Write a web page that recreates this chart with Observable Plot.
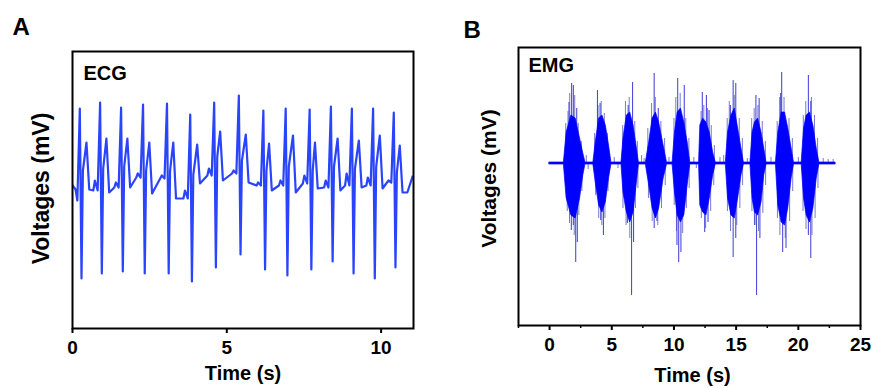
<!DOCTYPE html>
<html>
<head>
<meta charset="utf-8">
<script src="https://cdn.jsdelivr.net/npm/d3@7"></script>
<script src="https://cdn.jsdelivr.net/npm/@observablehq/plot@0.6"></script>
<style>
  html, body { margin: 0; padding: 0; background: #fff; }
  #fig { position: relative; width: 872px; height: 388px; overflow: hidden; }
</style>
</head>
<body>
<div id="fig"></div>
<script>
// ---------------- Panel A : ECG ----------------
const ecgTicks = [0, 5, 10];
const ecgStartT = [0, 0.10];
const ecgStartV = [0.01, -0.03];
const rTime   = [0.237, 0.895, 1.575, 2.286, 3.062, 3.815, 4.591, 5.390, 6.185, 6.909, 7.685, 8.374, 9.053, 9.741, 10.411];
const rPeak   = [0.78, 0.84, 0.79, 0.82, 0.83, 0.72, 0.84, 0.91, 0.76, 0.78, 0.77, 0.80, 0.78, 0.78, 0.74];
const sTrough = [-0.92, -0.87, -0.85, -0.87, -0.87, -0.95, -0.81, -0.68, -0.83, -0.89, -0.83, -0.75, -0.87, -0.92, -0.81];
const stLevel = [0.16, 0.18, 0.2, 0.16, 0.16, 0.12, 0.3, 0.26, 0.16, 0.2, 0.16, 0.2, 0.18, 0.2, 0.14];
const tTime   = [0.453, 1.099, 1.778, 2.489, 3.265, 4.041, 4.785, 5.616, 6.369, 7.145, 7.857, 8.591, 9.279, 9.958, 10.605];
const tPeak   = [0.44, 0.48, 0.48, 0.44, 0.44, 0.42, 0.55, 0.52, 0.43, 0.51, 0.44, 0.48, 0.46, 0.51, 0.41];
const pPeak   = [0.01, 0.06, 0.04, 0.13, 0.11, -0.04, 0.18, 0.16, 0.04, 0.06, 0.11, 0.06, 0.13, 0.09, 0.06];
const baseBefore = [-0.14, -0.04, -0.01, 0.09, 0.08, -0.12, 0.11, 0.13, 0.01, 0.01, 0.03, -0.01, 0.01, 0.01, 0.04];
const baseAfter  = [-0.03, -0.06, -0.01, -0.07, -0.12, 0.03, 0.06, 0.04, -0.04, -0.06, -0.02, -0.04, -0.01, -0.02, -0.06];
const ecgEndT = [10.85, 11.02];
const ecgEndV = [-0.06, 0.10];

const ecg = [];
ecgStartT.forEach((t, i) => ecg.push({t, v: ecgStartV[i]}));
rTime.forEach((r, i) => {
  if (i > 0) {
    ecg.push({t: r - 0.22, v: baseBefore[i]});
    ecg.push({t: r - 0.17, v: pPeak[i]});
  }
  ecg.push({t: r - 0.08, v: baseBefore[i]});
  ecg.push({t: r, v: rPeak[i]});
  ecg.push({t: r + 0.055, v: sTrough[i]});
  ecg.push({t: r + 0.10, v: stLevel[i]});
  ecg.push({t: tTime[i], v: tPeak[i]});
  ecg.push({t: tTime[i] + 0.09, v: baseAfter[i]});
});
ecgEndT.forEach((t, i) => ecg.push({t, v: ecgEndV[i]}));

// ---------------- Panel B : EMG ----------------
const emgTicks = [0, 5, 10, 15, 20, 25];
const emgMinorTicks = [-2.5, 2.5, 7.5, 12.5, 17.5, 22.5];
const emgT = [0,
  1.15, 1.37, 1.75, 2.10, 2.45, 2.71, 2.88,
  3.52, 3.71, 3.98, 4.25, 4.52, 4.78, 4.97,
  5.78, 5.94, 6.21, 6.48, 6.75, 7.02, 7.18,
  7.74, 8.01, 8.28, 8.55, 8.81, 9.17, 9.44,
  9.89, 10.08, 10.30, 10.56, 10.83, 11.10, 11.31,
  12.02, 12.12, 12.34, 12.61, 12.88, 13.15, 13.36,
  14.17, 14.35, 14.62, 14.89, 15.16, 15.43, 15.62,
  16.15, 16.32, 16.51, 16.77, 17.04, 17.26, 17.44,
  18.20, 18.39, 18.66, 18.93, 19.19, 19.46, 19.65,
  20.27, 20.46, 20.67, 20.94, 21.21, 21.48, 21.69,
  23.0];
const emgTop = [0.01,
  0.01, 0.31, 0.48, 0.45, 0.25, 0.10, 0.01,
  0.01, 0.21, 0.45, 0.48, 0.38, 0.18, 0.01,
  0.01, 0.25, 0.48, 0.51, 0.38, 0.15, 0.01,
  0.01, 0.21, 0.45, 0.51, 0.41, 0.18, 0.01,
  0.01, 0.31, 0.51, 0.55, 0.41, 0.21, 0.01,
  0.01, 0.38, 0.45, 0.41, 0.31, 0.11, 0.01,
  0.01, 0.31, 0.48, 0.55, 0.35, 0.15, 0.01,
  0.01, 0.31, 0.41, 0.45, 0.31, 0.15, 0.01,
  0.01, 0.31, 0.51, 0.51, 0.35, 0.15, 0.01,
  0.01, 0.35, 0.48, 0.51, 0.38, 0.15, 0.01,
  0.01];
const emgBot = [-0.01,
  -0.01, -0.35, -0.52, -0.55, -0.35, -0.12, -0.01,
  -0.01, -0.19, -0.42, -0.49, -0.39, -0.15, -0.01,
  -0.01, -0.29, -0.49, -0.59, -0.49, -0.19, -0.01,
  -0.01, -0.22, -0.45, -0.55, -0.45, -0.15, -0.01,
  -0.01, -0.29, -0.52, -0.59, -0.52, -0.22, -0.01,
  -0.01, -0.42, -0.49, -0.52, -0.35, -0.12, -0.01,
  -0.01, -0.35, -0.52, -0.55, -0.35, -0.12, -0.01,
  -0.01, -0.35, -0.49, -0.52, -0.39, -0.12, -0.01,
  -0.01, -0.42, -0.59, -0.62, -0.45, -0.15, -0.01,
  -0.01, -0.35, -0.52, -0.59, -0.45, -0.15, -0.01,
  -0.01];
// large excursions reaching beyond the dense body
const spikeT = [1.77, 1.91, 1.56, 2.18, 2.10, 1.75, 2.23, 1.91,
  3.85, 4.06, 4.33, 4.11,
  6.67, 6.32, 6.59, 6.75, 6.26,
  8.41, 8.74, 8.41, 8.63,
  10.30, 10.83, 10.38, 10.56, 10.24,
  12.28, 12.61, 12.82, 12.47, 12.74,
  14.76, 14.97, 14.54, 14.76, 14.97,
  16.59, 16.85, 16.64, 16.91, 16.51,
  18.66, 18.58, 18.74, 19.01,
  20.81, 21.00, 21.00, 20.81];
const spikeV = [0.80, 0.78, 0.61, 0.55, -0.99, -0.67, -0.79, -0.62,
  0.73, 0.60, -0.72, -0.57,
  0.81, 0.58, -1.32, -0.79, -0.60,
  0.90, 0.55, -0.65, -0.58,
  0.85, 0.78, -0.99, -0.89, -0.82,
  0.71, 0.68, 0.53, -0.69, -0.59,
  0.83, 0.80, 0.58, -0.94, -0.75,
  0.68, 0.65, -1.32, -0.75, -0.62,
  0.91, 0.70, -0.89, -0.85,
  0.88, 0.62, -0.95, -0.72];
// smaller excursions along the burst edges and baseline
const fringeT = [1.30, 1.48, 1.62, 2.02, 2.30, 2.55, 1.42, 1.60, 1.98, 2.35, 2.60, 2.95, 3.10,
  3.62, 3.90, 4.15, 4.40, 4.65, 3.70, 3.95, 4.20, 4.45, 4.70, 5.20, 5.50,
  5.88, 6.10, 6.40, 6.85, 7.05, 5.90, 6.15, 6.45, 6.90, 7.10, 7.40, 7.60,
  7.90, 8.20, 8.50, 8.95, 9.25, 7.95, 8.25, 8.70, 9.00, 9.30, 9.60,
  10.00, 10.15, 10.50, 10.95, 11.20, 10.02, 10.20, 10.70, 11.00, 11.22, 11.60, 11.80,
  12.18, 12.40, 12.70, 13.00, 13.25, 12.20, 12.55, 12.95, 13.20, 13.70, 14.00,
  14.28, 14.45, 14.85, 15.25, 15.50, 14.30, 14.55, 15.05, 15.30, 15.52, 15.90,
  16.25, 16.45, 16.75, 17.10, 17.35, 16.27, 16.47, 16.80, 17.15, 17.37, 17.80,
  18.30, 18.50, 18.85, 19.25, 19.52, 18.32, 18.52, 18.95, 19.30, 19.55, 20.00,
  20.40, 20.60, 21.05, 21.30, 21.55, 20.38, 20.62, 21.10, 21.35, 21.58, 22.00, 22.40, 22.80];
const fringeV = [0.40, 0.52, 0.70, 0.68, 0.40, 0.22, -0.48, -0.60, -0.72, -0.52, -0.28, 0.08, -0.06,
  0.30, 0.58, 0.62, 0.50, 0.30, -0.32, -0.55, -0.62, -0.55, -0.28, 0.06, -0.05,
  0.38, 0.62, 0.66, 0.42, 0.22, -0.45, -0.62, -0.75, -0.45, -0.25, 0.08, 0.05,
  0.35, 0.60, 0.66, 0.42, 0.25, -0.35, -0.58, -0.62, -0.45, -0.22, 0.06,
  0.45, 0.66, 0.70, 0.45, 0.25, -0.42, -0.68, -0.70, -0.45, -0.25, 0.06, -0.05,
  0.52, 0.58, 0.55, 0.38, 0.18, -0.55, -0.65, -0.48, -0.22, 0.06, 0.08,
  0.45, 0.62, 0.68, 0.45, 0.25, -0.48, -0.68, -0.62, -0.45, -0.22, 0.05,
  0.45, 0.55, 0.58, 0.42, 0.22, -0.48, -0.62, -0.68, -0.50, -0.22, 0.06,
  0.42, 0.66, 0.66, 0.45, 0.25, -0.55, -0.72, -0.75, -0.58, -0.28, 0.06,
  0.48, 0.62, 0.66, 0.48, 0.25, -0.48, -0.66, -0.72, -0.55, -0.25, 0.05, 0.04, 0.04];

const emg = emgT.map((t, i) => ({t, top: emgTop[i], bot: emgBot[i]}));
const spikes = spikeT.map((t, i) => ({t, v: spikeV[i]}));
const fringe = fringeT.map((t, i) => ({t, v: fringeV[i]}));

const FONT = "'Liberation Sans', Arial, Helvetica, sans-serif";
const rootStyle = {fontFamily: FONT, fontWeight: "bold", background: "white", overflow: "visible"};

const plotA = Plot.plot({
  width: 436, height: 388,
  marginTop: 51, marginRight: 23, marginBottom: 60, marginLeft: 72,
  style: rootStyle,
  x: {domain: [0, 11.05]},
  y: {domain: [-1.42, 1.35], axis: null},
  marks: [
    Plot.line(ecg, {x: "t", y: "v", stroke: "#2a44fb", strokeWidth: 2.2, strokeLinejoin: "round", clip: true}),
    Plot.frame({stroke: "black", strokeWidth: 2}),
    Plot.axisX({ticks: ecgTicks, tickSize: 5, tickPadding: 7, label: null, fontSize: 19, fontWeight: "bold", strokeWidth: 2}),
    Plot.text(["A"], {frameAnchor: "top-left", textAnchor: "start", lineAnchor: "top", dx: -60, dy: -34, fontSize: 24, fontWeight: "bold"}),
    Plot.text(["ECG"], {frameAnchor: "top-left", textAnchor: "start", lineAnchor: "top", dx: 11, dy: 14, fontSize: 20, fontWeight: "bold"}),
    Plot.text(["Voltages (mV)"], {frameAnchor: "left", rotate: -90, textAnchor: "middle", lineAnchor: "middle", dx: -31, dy: -1.5, fontSize: 23, fontWeight: "bold"}),
    Plot.text(["Time (s)"], {frameAnchor: "bottom", lineAnchor: "top", dy: 37, fontSize: 20, fontWeight: "bold"})
  ]
});

const plotB = Plot.plot({
  width: 436, height: 388,
  marginTop: 47, marginRight: 12, marginBottom: 63, marginLeft: 82,
  style: rootStyle,
  x: {domain: [-2.5, 25]},
  y: {domain: [-1.62, 1.16], axis: null},
  marks: [
    Plot.ruleX(fringe, {x: "t", y1: 0, y2: "v", stroke: "#6a6ac8", strokeWidth: 1, strokeOpacity: 0.9}),
    Plot.ruleX(spikes, {x: "t", y1: 0, y2: "v", stroke: "#3a3ad8", strokeWidth: 1.1, strokeOpacity: 0.9}),
    Plot.areaY(emg, {x: "t", y1: "bot", y2: "top", fill: "#0000ff", stroke: "#0000ff", strokeWidth: 0.7}),
    Plot.frame({stroke: "black", strokeWidth: 2}),
    Plot.axisX({ticks: emgMinorTicks, tickSize: 3, tickFormat: () => "", label: null, strokeWidth: 1.5}),
    Plot.axisX({ticks: emgTicks, tickSize: 5, tickPadding: 7, label: null, fontSize: 19, fontWeight: "bold", strokeWidth: 2}),
    Plot.text(["B"], {frameAnchor: "top-left", textAnchor: "start", lineAnchor: "top", dx: -55, dy: -27, fontSize: 24, fontWeight: "bold"}),
    Plot.text(["EMG"], {frameAnchor: "top-left", textAnchor: "start", lineAnchor: "top", dx: 10, dy: 10, fontSize: 20, fontWeight: "bold"}),
    Plot.text(["Voltages (mV)"], {frameAnchor: "left", rotate: -90, textAnchor: "middle", lineAnchor: "middle", dx: -29, dy: -8, fontSize: 21, fontWeight: "bold"}),
    Plot.text(["Time (s)"], {frameAnchor: "bottom", lineAnchor: "top", dx: 3, dy: 42, fontSize: 20, fontWeight: "bold"})
  ]
});

const fig = document.getElementById("fig");
plotA.style.position = "absolute";
plotA.style.left = "0px";
plotA.style.top = "0px";
plotB.style.position = "absolute";
plotB.style.left = "436px";
plotB.style.top = "0px";
fig.appendChild(plotA);
fig.appendChild(plotB);
</script>
</body>
</html>
